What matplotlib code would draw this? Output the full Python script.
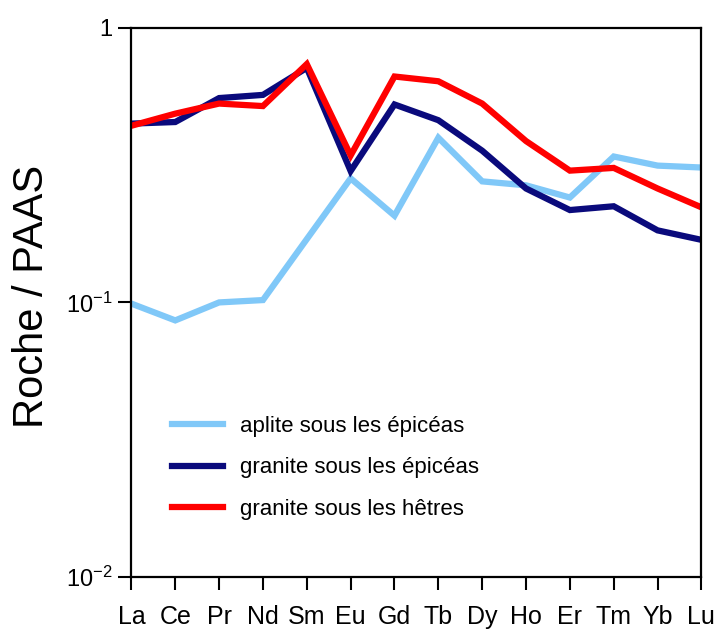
import numpy as np
import matplotlib
matplotlib.use("Agg")
import matplotlib.pyplot as plt
from matplotlib.ticker import FixedLocator, NullLocator

plt.rcParams['font.family'] = ['Liberation Sans', 'DejaVu Sans']
plt.rcParams['mathtext.fontset'] = 'custom'
plt.rcParams['mathtext.rm'] = 'Liberation Sans'
plt.rcParams['mathtext.default'] = 'regular'

elements = ['La', 'Ce', 'Pr', 'Nd', 'Sm', 'Eu', 'Gd', 'Tb', 'Dy', 'Ho', 'Er', 'Tm', 'Yb', 'Lu']

# REE normalised to PAAS
aplite_epiceas  = [0.099, 0.086, 0.100, 0.102, 0.170, 0.283, 0.207, 0.398, 0.276, 0.267, 0.241, 0.340, 0.315, 0.310]
granite_epiceas = [0.448, 0.454, 0.555, 0.570, 0.715, 0.301, 0.526, 0.461, 0.357, 0.260, 0.217, 0.224, 0.183, 0.169]
granite_hetres  = [0.440, 0.487, 0.530, 0.519, 0.738, 0.343, 0.665, 0.639, 0.530, 0.387, 0.302, 0.309, 0.260, 0.222]

labels = ['aplite sous les épicéas', 'granite sous les épicéas', 'granite sous les hêtres']
colors = ['#80c8f8', '#0a0a7c', '#ff0000']

fig = plt.figure(figsize=(7.22, 6.29), dpi=100)
ax = fig.add_axes([0.182, 0.0827, 0.7895, 0.873])

x = np.arange(len(elements))
for series, lab, col in zip([aplite_epiceas, granite_epiceas, granite_hetres], labels, colors):
    ax.plot(x, series, color=col, lw=4.5, label=lab, solid_joinstyle='miter')

ax.set_yscale('log')
ax.set_ylim(0.01, 1)
ax.set_xlim(0, len(elements) - 1)
ax.yaxis.set_major_locator(FixedLocator([0.01, 0.1, 1]))
ax.yaxis.set_minor_locator(NullLocator())
ax.set_yticklabels(['$10^{-2}$', '$10^{-1}$', '1'], fontsize=17)
ax.set_xticks(x)
ax.set_xticklabels(elements, fontsize=18)

ax.tick_params(axis='y', direction='out', length=9.5, width=1.5, pad=4)
ax.tick_params(axis='x', direction='out', length=9, width=1.5, pad=11)
for sp in ax.spines.values():
    sp.set_linewidth(1.6)

ax.set_ylabel('Roche / PAAS', fontsize=30)
ax.yaxis.set_label_coords(-0.14, 0.51)

leg = ax.legend(loc='upper left', bbox_to_anchor=(172 / 722, 1 - 416 / 629),
                bbox_transform=fig.transFigure, frameon=False, fontsize=16,
                handlelength=2.3, handletextpad=0.75, labelspacing=0.92,
                borderpad=0, borderaxespad=0)
for h in leg.get_lines():
    h.set_linewidth(4.5)

fig.savefig('out.png', dpi=100)
